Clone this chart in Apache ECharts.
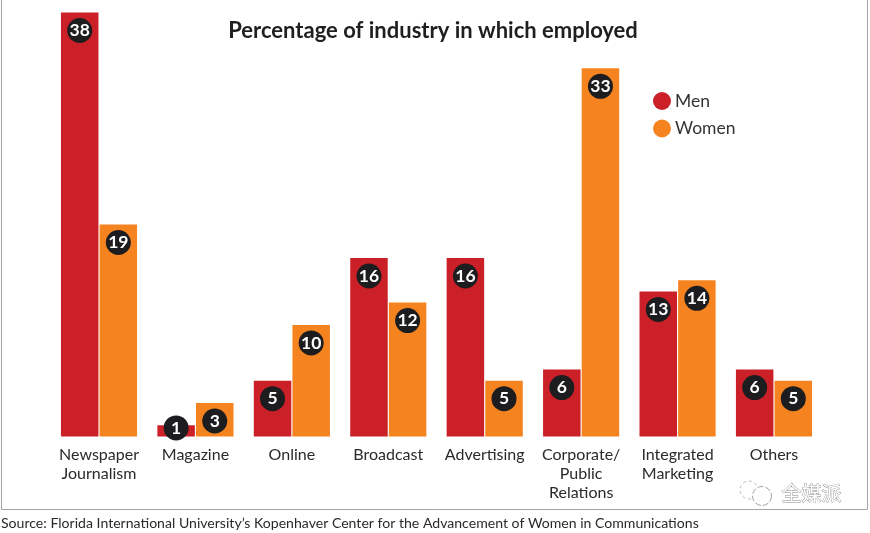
<!DOCTYPE html>
<html><head><meta charset="utf-8">
<style>html,body{margin:0;padding:0;background:#fff}#c{width:870px;height:533px}</style>
<script src="https://cdn.jsdelivr.net/npm/echarts@6/dist/echarts.min.js"></script>
</head><body><div id="c"></div>
<script>
const categories = ['Newspaper\nJournalism','Magazine','Online','Broadcast','Advertising','Corporate/\nPublic\nRelations','Integrated\nMarketing','Others'];
const men = [38,1,5,16,16,6,13,6];
const women = [19,3,10,12,5,33,14,5];
const titleText = 'Percentage of industry in which employed';
const sourceText = 'Source: Florida International University\u2019s Kopenhaver Center for the Advancement of Women in Communications';
const watermark = '全媒派';
const FONT = 'Lato, "Open Sans", sans-serif';
const badge = {
  show:true, position:'insideTop', distance:5.5, formatter:'{c}',
  width:25, height:25, lineHeight:25, borderRadius:12.5, align:'center',
  backgroundColor:'#1d1d1f', color:'#fff', fontFamily:'"Liberation Sans Narrow", Lato, sans-serif', fontWeight:'bold', fontSize:17.5
};
const toData = arr => arr.map(v => v < 2
  ? {value:v, label:{position:'inside', distance:0, offset:[0,-3]}}
  : v);
const chart = echarts.init(document.getElementById('c'), null, {renderer:'canvas'});
chart.setOption({
  animation:false,
  backgroundColor:'#fff',
  title:{text:titleText, left:428, top:15, textAlign:'center',
    textStyle:{fontFamily:FONT, fontSize:22, fontWeight:'bold', color:'#1f1f1f'}},
  legend:{orient:'vertical', left:648, top:87, itemWidth:18, itemHeight:18, itemGap:9.5, icon:'circle',
    textStyle:{fontFamily:FONT, fontSize:17.5, color:'#333', padding:[0,0,0,-1]},
    data:['Men','Women']},
  grid:{left:50.8, width:771.4, top:12.5, bottom:96.5, containLabel:false},
  xAxis:{type:'category', data:categories, axisLine:{show:false}, axisTick:{show:false},
    axisLabel:{margin:8.5, interval:0, fontFamily:FONT, fontSize:16, lineHeight:19, color:'#2a2a2a'}},
  yAxis:{type:'value', min:0, max:38, show:false, splitLine:{show:false}},
  series:[
    {name:'Men', type:'bar', data:toData(men), barWidth:37.5, barGap:'3%', itemStyle:{color:'#cb2027'}, label:badge, z:2},
    {name:'Women', type:'bar', data:toData(women), barWidth:37.5, barGap:'3%', itemStyle:{color:'#f58420'}, label:badge, z:2}
  ],
  graphic:[
    {type:'polyline', shape:{points:[[1.5,0],[1.5,509.5],[867.5,509.5],[867.5,0]]}, style:{fill:'none', stroke:'#a3a3a3', lineWidth:1}, silent:true},
    {type:'text', left:1, top:516, style:{text:sourceText, fontFamily:FONT, fontSize:14.08, fill:'#2a2a2a'}},
    {type:'text', left:781, top:483, style:{text:watermark, fontFamily:'"Noto Sans CJK SC"', fontSize:20, fill:'#fff', stroke:'#8a8a8a', lineWidth:0.8}},
    {type:'circle', shape:{cx:749,cy:490,r:9}, style:{fill:'#fff', stroke:'#a8a8a8', lineWidth:0.8, lineDash:[3,3]}},
    {type:'circle', shape:{cx:762,cy:496,r:9.5}, style:{fill:'#fff', stroke:'#8a8a8a', lineWidth:0.8, lineDash:[6,2]}}
  ]
});
</script></body></html>
